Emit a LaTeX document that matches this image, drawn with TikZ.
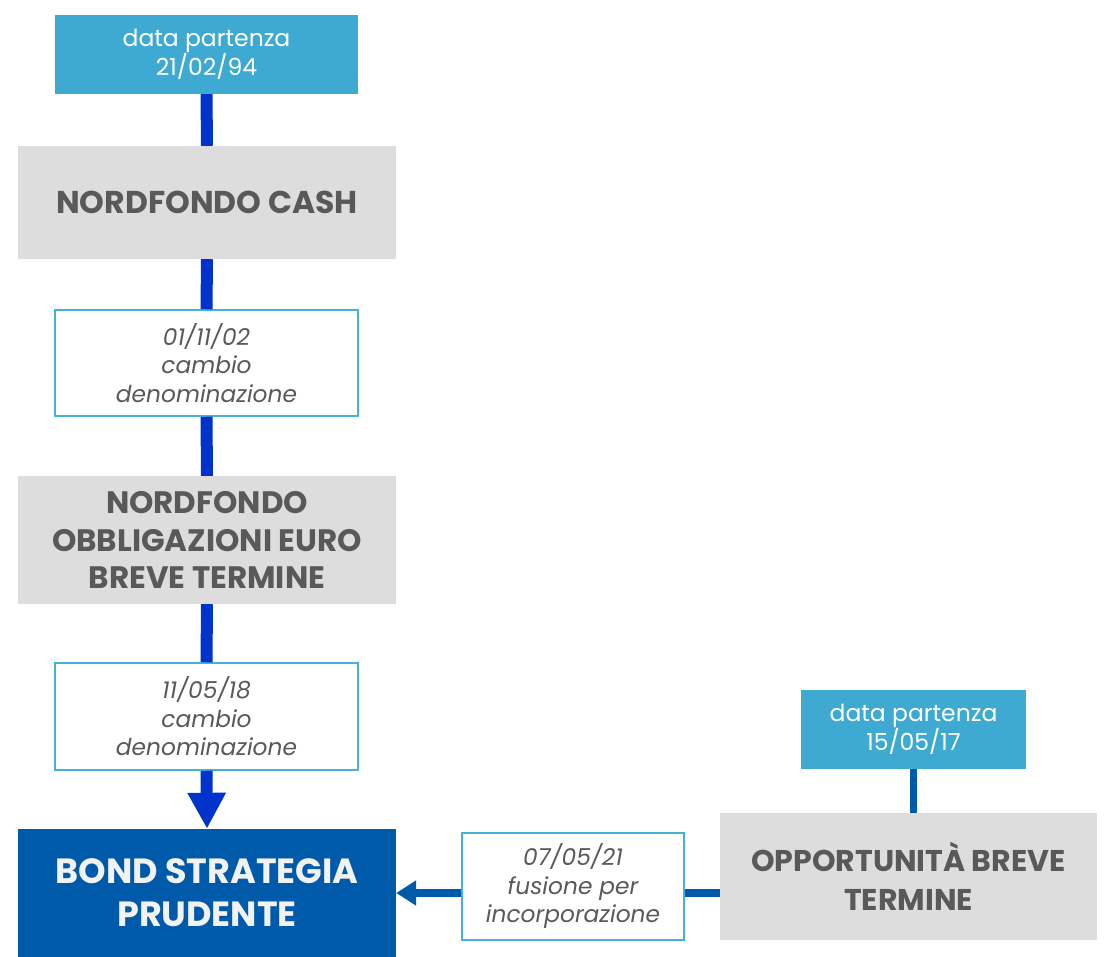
\documentclass[tikz,border=0pt]{standalone}
\usepackage{fontspec}
\setmainfont{Poppins}
\usetikzlibrary{arrows.meta}
\definecolor{dpblue}{HTML}{3EA9D1}
\definecolor{boxgray}{HTML}{DDDDDD}
\definecolor{txtgray}{HTML}{595959}
\definecolor{lineblue}{HTML}{0033CC}
\definecolor{bspblue}{HTML}{005AAA}
\definecolor{rimblue}{HTML}{45B0DD}
\definecolor{bsptxt}{HTML}{F2F2F2}
\tikzset{
  datebox/.style={fill=dpblue, draw=none, text=white, align=center, inner sep=0pt,
    font=\fontsize{23.5}{28}\selectfont},
  fundbox/.style={fill=boxgray, draw=none, text=txtgray, align=center, inner sep=0pt,
    font=\fontsize{31}{37.5}\selectfont\bfseries},
  eventbox/.style={fill=white, draw=rimblue, line width=1.5pt, text=txtgray, align=center, inner sep=0pt,
    font=\fontsize{23.3}{28.5}\selectfont\itshape},
  mainbox/.style={fill=bspblue, draw=none, text=bsptxt, align=center, inner sep=0pt,
    font=\fontsize{35}{43}\selectfont\bfseries},
  vline/.style={draw=lineblue, line width=12pt},
  rline/.style={draw=bspblue, line width=8pt},
}
\begin{document}
\begin{tikzpicture}[x=1pt,y=-1pt]
\useasboundingbox (0,0) rectangle (1105,957);
\node[datebox, minimum width=303pt, minimum height=79pt] (dp1) at (206.5,54.5) {data partenza\\21/02/94};
\node[fundbox, minimum width=378pt, minimum height=113pt, font=\fontsize{31.5}{37.5}\selectfont\bfseries] (nc) at (207,202.5) {NORDFONDO CASH};
\node[eventbox, minimum width=303pt, minimum height=106pt] (ev1) at (206.5,363) {01/11/02\\cambio\\denominazione};
\node[fundbox, minimum width=378pt, minimum height=128pt] (nobt) at (207,540) {NORDFONDO\\OBBLIGAZIONI EURO\\BREVE TERMINE};
\node[eventbox, minimum width=303pt, minimum height=107pt] (ev2) at (206.5,716.5) {11/05/18\\cambio\\denominazione};
\node[mainbox, minimum width=378pt, minimum height=128pt] (bsp) at (207,893) {BOND STRATEGIA\\PRUDENTE};
\node[datebox, minimum width=225pt, minimum height=79pt] (dp2) at (913.5,729.5) {data partenza\\15/05/17};
\node[fundbox, minimum width=377pt, minimum height=127pt, font=\fontsize{30}{39}\selectfont\bfseries] (obt) at (908.5,876.5) {OPPORTUNITÀ BREVE\\TERMINE};
\node[eventbox, minimum width=222pt, minimum height=107pt] (ev3) at (573,886.5) {07/05/21\\fusione per\\incorporazione};
% left chain
\draw[vline] (dp1.south) -- (nc.north);
\draw[vline] (nc.south) -- (ev1.north);
\draw[vline] (ev1.south) -- (nobt.north);
\draw[vline] (nobt.south) -- (ev2.north);
\draw[vline, -{Triangle[width=36pt,length=36pt]}] (ev2.south) -- (bsp.north);
% right chain
\draw[draw=bspblue, line width=7pt] (dp2.south) -- (dp2.south |- obt.north);
\draw[rline] (obt.west |- bsp.east) -- (ev3.east |- bsp.east);
\draw[rline, -{Triangle[width=24pt,length=20pt]}] (ev3.west |- bsp.east) -- (bsp.east);
\end{tikzpicture}
\end{document}
